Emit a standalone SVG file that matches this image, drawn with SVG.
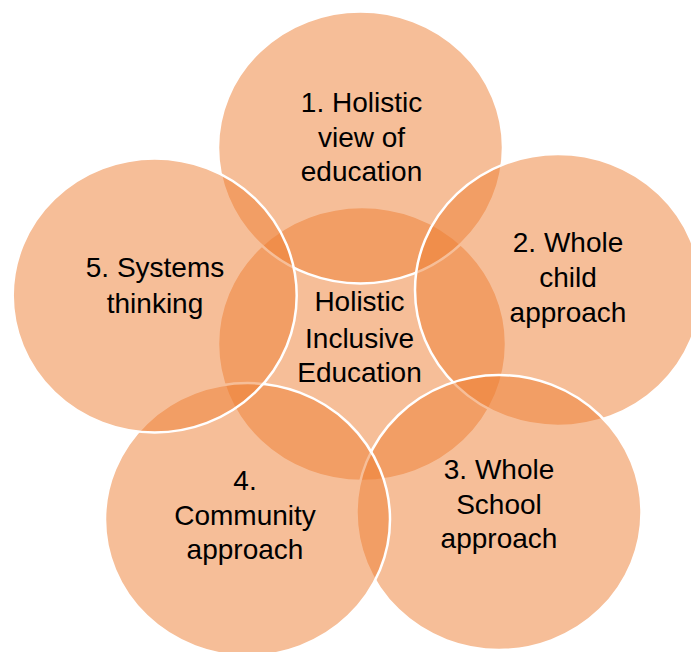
<svg xmlns="http://www.w3.org/2000/svg" width="691" height="652" viewBox="0 0 691 652">
<style>
.c{fill:#ED7D31;fill-opacity:0.5;stroke:#FFFFFF;stroke-width:2.5}
.t{font-family:"Liberation Sans",Arial,sans-serif;font-size:28px;fill:#000;text-anchor:middle}
</style>
<rect width="691" height="652" fill="#FFFFFF"/>
<g id="center">
<ellipse class="c" cx="362" cy="344" rx="144" ry="137"/>
</g>
<g id="n1">
<ellipse class="c" cx="360.5" cy="147.5" rx="142.5" ry="136"/>
</g>
<g id="n2">
<ellipse class="c" cx="558" cy="290" rx="143" ry="136"/>
</g>
<g id="n3">
<ellipse class="c" cx="499" cy="512.5" rx="142.5" ry="137.5"/>
</g>
<g id="n4">
<ellipse class="c" cx="247.5" cy="519.5" rx="142.5" ry="136.5"/>
</g>
<g id="n5">
<ellipse class="c" cx="154.7" cy="295.5" rx="142" ry="137"/>
</g>
<g id="labels">
<text class="t" x="361.5" y="111.5">1. Holistic</text>
<text class="t" x="361.5" y="146.5">view of</text>
<text class="t" x="361.5" y="181">education</text>
<text class="t" x="568" y="251.5">2. Whole</text>
<text class="t" x="568" y="286.5">child</text>
<text class="t" x="568" y="321.5">approach</text>
<text class="t" x="499" y="478.5">3. Whole</text>
<text class="t" x="499" y="514">School</text>
<text class="t" x="499" y="548">approach</text>
<text class="t" x="245" y="490">4.</text>
<text class="t" x="245" y="525">Community</text>
<text class="t" x="245" y="559">approach</text>
<text class="t" x="155" y="277">5. Systems</text>
<text class="t" x="155" y="312.5">thinking</text>
<text class="t" x="359.5" y="311">Holistic</text>
<text class="t" x="359.5" y="347.5">Inclusive</text>
<text class="t" x="359.5" y="381.5">Education</text>
</g>
<g id="connectors"/>
</svg>
